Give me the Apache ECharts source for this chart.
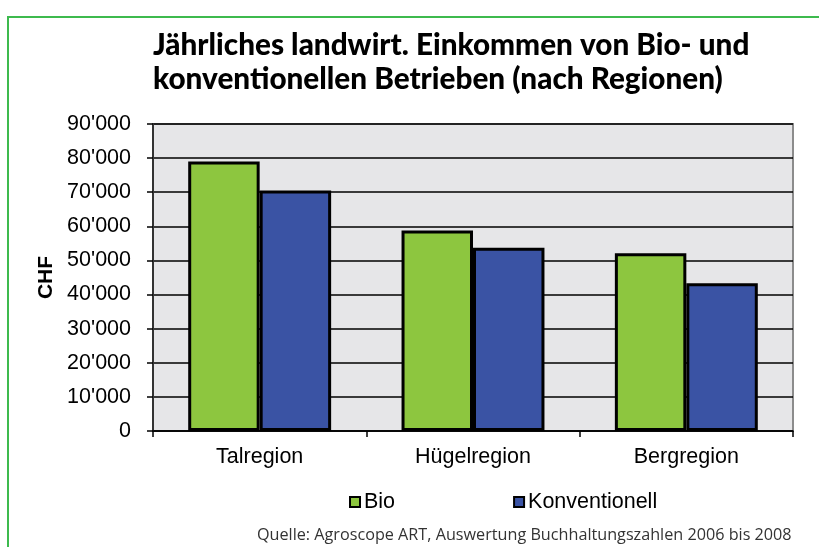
<!DOCTYPE html>
<html>
<head>
<meta charset="utf-8">
<script src="https://cdn.jsdelivr.net/npm/echarts@6/dist/echarts.min.js"></script>
<style>html,body{margin:0;padding:0;background:#fff;}#c{width:819px;height:547px;}</style>
</head>
<body>
<div id="c"></div>
<script>
var categories = ['Talregion', 'Hügelregion', 'Bergregion'];
var bioValues = [79000, 58800, 52100];
var konvValues = [70500, 53700, 43300];
var seriesNames = ['Bio', 'Konventionell'];
var titleText = 'Jährliches landwirt. Einkommen von Bio- und\nkonventionellen Betrieben (nach Regionen)';
var sourceText = 'Quelle: Agroscope ART, Auswertung Buchhaltungszahlen 2006 bis 2008';
var yAxisName = 'CHF';

function fmt(v) {
  if (v === 0) return '0';
  var s = String(v);
  return s.slice(0, s.length - 3) + "'" + s.slice(s.length - 3);
}

var chart = echarts.init(document.getElementById('c'));
chart.setOption({
  backgroundColor: '#ffffff',
  animation: false,
  graphic: [{
    type: 'rect',
    shape: { x: 8, y: 17, width: 900, height: 600 },
    style: { fill: 'none', stroke: '#3dba4e', lineWidth: 2 },
    z: -1
  }],
  title: [{
    text: titleText,
    left: 148,
    top: 23,
    textStyle: { fontFamily: 'Lato', fontWeight: 900, fontSize: 29.7, lineHeight: 34, color: '#000' }
  }, {
    text: sourceText,
    left: 252,
    top: 522,
    textStyle: { fontFamily: 'Open Sans', fontWeight: 'normal', fontSize: 16.2, color: '#333' }
  }],
  legend: {
    left: 344,
    top: 486,
    icon: 'rect',
    itemWidth: 10,
    itemHeight: 10,
    itemGap: 118,
    textStyle: { fontFamily: 'Liberation Sans', fontSize: 21.5, color: '#000', padding: [0, 0, 0, -1] },
    data: seriesNames
  },
  grid: { left: 153, right: 26, top: 124, bottom: 116, backgroundColor: '#e6e6e8', show: true, borderColor: '#8c8c8c', borderWidth: 2 },
  xAxis: {
    type: 'category',
    data: categories,
    axisLine: { lineStyle: { color: '#000', width: 1.5 } },
    axisTick: { show: true, length: 6, lineStyle: { color: '#000', width: 1.5 } },
    axisLabel: { fontFamily: 'Liberation Sans', fontSize: 21.5, color: '#000', margin: 15 }
  },
  yAxis: {
    type: 'value',
    min: 0, max: 90000, interval: 10000,
    name: yAxisName,
    nameLocation: 'middle',
    nameGap: 96,
    nameRotate: 90,
    nameTextStyle: { fontFamily: 'Liberation Sans', fontWeight: 'bold', fontSize: 21, color: '#000' },
    axisLine: { show: true, lineStyle: { color: '#333', width: 2 } },
    axisTick: { show: true, length: 6, lineStyle: { color: '#000', width: 1.5 } },
    axisLabel: { fontFamily: 'Liberation Sans', fontSize: 21.5, color: '#000', margin: 22, formatter: fmt },
    splitLine: { show: true, lineStyle: { color: '#000', width: 1.5 } }
  },
  series: [{
    name: seriesNames[0],
    type: 'bar',
    data: bioValues,
    barGap: '0%',
    barCategoryGap: '33%',
    itemStyle: { color: '#8dc63f', borderColor: '#000', borderWidth: 3 }
  }, {
    name: seriesNames[1],
    type: 'bar',
    data: konvValues,
    itemStyle: { color: '#3a53a4', borderColor: '#000', borderWidth: 3 }
  }]
});
</script>
</body>
</html>
